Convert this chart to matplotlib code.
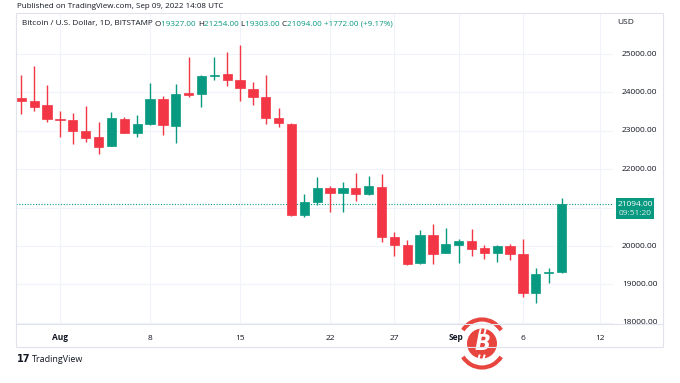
import matplotlib
matplotlib.use("Agg")
import matplotlib.pyplot as plt
from matplotlib.patches import Rectangle, Circle, Arc
import numpy as np

plt.rcParams['font.family'] = ['Open Sans', 'DejaVu Sans']

# ---- data ----
days = list(range(-3, 40))  # day 0 = Aug 1, 2022 ; -3 = Jul 29 ... 39 = Sep 9
opens = [23846, 23784, 23663, 23300, 23281, 22995, 22831, 22604, 23315, 22933,
         23177, 23820, 23133, 23976, 23958, 24419, 24479, 24323, 24097, 23872,
         23342, 23177, 20807, 21137, 21510, 21372, 21510, 21346, 21545, 20226,
         20026, 19549, 20287, 19810, 20017, 20122, 19948, 19810, 20000, 19792,
         18767, 19290, 19327]
highs = [24453, 24688, 24193, 23524, 23472, 23646, 23237, 23498, 23350, 23411,
         24237, 23915, 24219, 24931, 24453, 24913, 25052, 25234, 24263, 24453,
         23585, 23200, 21354, 21797, 21563, 21675, 21901, 21823, 21875, 20373,
         20156, 20417, 20573, 20460, 20191, 20434, 20026, 20026, 20043, 20174,
         19419, 19419, 21254]
lows = [23437, 23524, 23237, 22846, 22656, 22716, 22396, 22600, 22933, 22846,
        23150, 22891, 22690, 23889, 23611, 24323, 24175, 23784, 23672, 23177,
        23107, 20781, 20764, 21068, 20893, 20893, 21163, 21328, 20113, 19747,
        19500, 19531, 19531, 19810, 19566, 19747, 19653, 19592, 19635, 18664,
        18524, 19029, 19303]
closes = [23776, 23628, 23315, 23270, 23003, 22820, 22587, 23324, 22942, 23177,
          23820, 23150, 23958, 23924, 24427, 24462, 24323, 24106, 23872, 23342,
          23194, 20807, 21146, 21510, 21389, 21510, 21363, 21571, 20243, 20026,
          19531, 20287, 19792, 20043, 20130, 19930, 19810, 20000, 19783, 18767,
          19263, 19324, 21094]

xtick_days = [0, 7, 14, 21, 26, 31, 36, 42]
xtick_labels = ['Aug', '8', '15', '22', '27', 'Sep', '6', '12']
ytick_vals = [18000, 19000, 20000, 21000, 22000, 23000, 24000, 25000]
ytick_labels = ['18000.00', '19000.00', '20000.00', '', '22000.00', '23000.00', '24000.00', '25000.00']
last_price = 21094
last_price_label = '21094.00'
countdown = '09:51:20'
header_parts = [('Bitcoin / U.S. Dollar, 1D, BITSTAMP ', 'k'),
                ('O', 'k'), ('19327.00 ', 'g'),
                ('H', 'k'), ('21254.00 ', 'g'),
                ('L', 'k'), ('19303.00 ', 'g'),
                ('C', 'k'), ('21094.00 ', 'g'),
                ('+1772.00 (+9.17%)', 'g')]

GREEN = '#089981'
RED = '#f23645'
GRID = '#f0f3fa'
BORDER = '#e0e3eb'
TEXT = '#131722'

W, H = 680, 383
fig = plt.figure(figsize=(6.8, 3.83), dpi=100)
fig.patch.set_facecolor('white')

# pane in pixels: x 16..613, y 13..324 (from top)
L, R, T, B = 16, 613, 13, 324
ax = fig.add_axes([L / W, 1 - B / H, (R - L) / W, (B - T) / H])
ax.set_xlim(-3.42, 43.0)
ax.set_ylim(17969, 26068)
for s in ax.spines.values():
    s.set_visible(False)
ax.set_xticks([])
ax.set_yticks([])

# grid
for v in ytick_vals:
    ax.axhline(v, color=GRID, lw=0.8, zorder=0)
for d in xtick_days:
    ax.axvline(d, color=GRID, lw=0.8, zorder=0)

# candles
bw = 0.72
for d, o, h, l, c in zip(days, opens, highs, lows, closes):
    col = GREEN if c >= o else RED
    ax.vlines(d, l, h, color=col, lw=1.0, zorder=2)
    lo, hi = min(o, c), max(o, c)
    ax.add_patch(Rectangle((d - bw / 2, lo), bw, max(hi - lo, 15), facecolor=col,
                           edgecolor=col, lw=0.5, zorder=3))

# last price dotted line
ax.axhline(last_price, color=GREEN, lw=0.8, ls=(0, (1, 1.5)), zorder=1)

def fx(px):
    return px / W

def fy(py):
    return 1 - py / H

frame = Rectangle((fx(16), fy(347)), fx(663) - fx(16), fy(13) - fy(347),
                  transform=fig.transFigure, fill=False, edgecolor=BORDER, lw=0.8)
fig.add_artist(frame)
fig.add_artist(plt.Line2D([fx(16), fx(663)], [fy(324), fy(324)],
                          transform=fig.transFigure, color=BORDER, lw=0.8))

# x tick labels
for d, lab in zip(xtick_days, xtick_labels):
    bold = lab in ('Aug', 'Sep')
    ax.text(d - (0.25 if lab == 'Sep' else 0), -14 / (B - T), lab,
            transform=ax.get_xaxis_transform(),
            ha='center', va='center', fontsize=6, color=TEXT,
            fontweight='bold' if bold else 'normal', clip_on=False)

# y tick labels (right price scale)
for v, lab in zip(ytick_vals, ytick_labels):
    if lab:
        ax.text((622 - L) / (R - L), v, lab, transform=ax.get_yaxis_transform(),
                ha='left', va='center', fontsize=6, color=TEXT, clip_on=False)

# last price label box
fig.add_artist(Rectangle((fx(616), fy(219)), fx(654) - fx(616), fy(198) - fy(219),
                         transform=fig.transFigure, facecolor=GREEN, edgecolor='none'))
fig.text(fx(635), fy(204), last_price_label, ha='center', va='center', fontsize=6, color='white')
fig.text(fx(635), fy(213.5), countdown, ha='center', va='center', fontsize=6, color='#d8f0ea')

fig.text(fx(617), fy(23), 'USD', ha='left', va='center', fontsize=6, color=TEXT)

# header
fig.text(fx(17), fy(6), 'Published on TradingView.com, Sep 09, 2022 14:08 UTC',
         ha='left', va='center', fontsize=5.75, color=TEXT)

renderer = fig.canvas.get_renderer()
xpos = 22
for s, c in header_parts:
    t = fig.text(fx(xpos), fy(24), s, ha='left', va='center', fontsize=5.85,
                 color=GREEN if c == 'g' else TEXT)
    bb = t.get_window_extent(renderer)
    xpos += bb.width

# TradingView logo
fig.text(fx(17), fy(359), '17', ha='left', va='center', fontsize=7, color=TEXT,
         fontweight='bold', family='DejaVu Sans')
fig.text(fx(32), fy(359), 'TradingView', ha='left', va='center', fontsize=6.5, color=TEXT)

# bitcoin watermark
BTC_RED = '#e8453f'
cx, cy = 482, 343.5
ax2 = fig.add_axes([0, 0, 1, 1], facecolor='none')
ax2.set_xlim(0, W)
ax2.set_ylim(H, 0)
ax2.axis('off')
ax2.add_patch(Circle((cx, cy), 15, facecolor=BTC_RED, edgecolor='none'))
ax2.add_patch(Arc((cx, cy), 46, 48, theta1=215, theta2=325, color=BTC_RED, lw=3.0))
ax2.add_patch(Arc((cx, cy), 46, 48, theta1=35, theta2=145, color=BTC_RED, lw=3.0))
ax2.text(cx + 0.5, cy + 1, 'B', ha='center', va='center', fontsize=15, color='white',
         fontweight='bold', style='italic', family='DejaVu Sans')
ax2.plot([cx - 1.5, cx - 2.5], [cy - 14, cy - 10], color='white', lw=1.4)
ax2.plot([cx + 3.5, cx + 2.5], [cy - 14, cy - 10], color='white', lw=1.4)
ax2.plot([cx - 2.5, cx - 3.5], [cy + 12, cy + 15], color='white', lw=1.4)
ax2.plot([cx + 2.5, cx + 1.5], [cy + 12, cy + 15], color='white', lw=1.4)

fig.savefig('out.png', dpi=100, facecolor='white')
